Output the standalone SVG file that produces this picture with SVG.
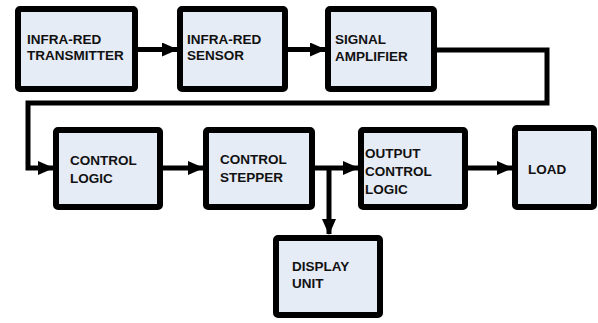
<svg xmlns="http://www.w3.org/2000/svg" width="598" height="323" viewBox="0 0 598 323">
  <style>
    .box { fill: #e6ecf6; stroke: #000; stroke-width: 6; }
    .lbl { font-family: "Liberation Sans", Arial, sans-serif; font-weight: bold; font-size: 13.5px; fill: #111; }
    .wire { fill: none; stroke: #000; stroke-width: 5; stroke-linejoin: miter; }
  </style>
  <defs>
    <marker id="arrow" markerUnits="userSpaceOnUse" markerWidth="16" markerHeight="14" refX="15" refY="7" orient="auto">
      <path d="M0,0 L16,7 L0,14 Z" fill="#000"/>
    </marker>
  </defs>
  <rect width="598" height="323" fill="#fff"/>

  <!-- connectors -->
  <g id="connectors">
    <line class="wire" x1="135" y1="49.5" x2="177" y2="49.5" marker-end="url(#arrow)"/>
    <line class="wire" x1="285" y1="49.5" x2="325" y2="49.5" marker-end="url(#arrow)"/>
    <polyline class="wire" points="434,50 547,50 547,103 28,103 28,168 53,168" marker-end="url(#arrow)"/>
    <line class="wire" x1="160" y1="168" x2="203" y2="168" marker-end="url(#arrow)"/>
    <line class="wire" x1="312" y1="168" x2="358" y2="168" marker-end="url(#arrow)"/>
    <line class="wire" x1="329" y1="168" x2="329" y2="234" marker-end="url(#arrow)"/>
    <line class="wire" x1="465" y1="168" x2="512" y2="168" marker-end="url(#arrow)"/>
  </g>

  <!-- nodes -->
  <g id="ir-transmitter">
    <rect class="box" x="18" y="9" width="117" height="80" rx="2"/>
    <text class="lbl" x="27" y="43.5">INFRA-RED</text>
    <text class="lbl" x="27" y="60">TRANSMITTER</text>
  </g>
  <g id="ir-sensor">
    <rect class="box" x="180" y="9" width="105" height="80" rx="2"/>
    <text class="lbl" x="187" y="43.5">INFRA-RED</text>
    <text class="lbl" x="187" y="60">SENSOR</text>
  </g>
  <g id="signal-amplifier">
    <rect class="box" x="328" y="9" width="106" height="80" rx="2"/>
    <text class="lbl" x="335" y="43.5">SIGNAL</text>
    <text class="lbl" x="335" y="60.5">AMPLIFIER</text>
  </g>
  <g id="control-logic">
    <rect class="box" x="56" y="130" width="104" height="77" rx="2"/>
    <text class="lbl" x="70" y="165">CONTROL</text>
    <text class="lbl" x="70" y="183">LOGIC</text>
  </g>
  <g id="control-stepper">
    <rect class="box" x="206" y="130" width="106" height="77" rx="2"/>
    <text class="lbl" x="220" y="164">CONTROL</text>
    <text class="lbl" x="220" y="182">STEPPER</text>
  </g>
  <g id="output-control-logic">
    <rect class="box" x="361" y="130" width="104" height="77" rx="2"/>
    <text class="lbl" x="365" y="158">OUTPUT</text>
    <text class="lbl" x="365" y="176">CONTROL</text>
    <text class="lbl" x="365" y="194">LOGIC</text>
  </g>
  <g id="load">
    <rect class="box" x="515" y="128" width="79" height="79" rx="2"/>
    <text class="lbl" x="528" y="174">LOAD</text>
  </g>
  <g id="display-unit">
    <rect class="box" x="276" y="238" width="104" height="77" rx="2"/>
    <text class="lbl" x="292" y="271">DISPLAY</text>
    <text class="lbl" x="292" y="288">UNIT</text>
  </g>
</svg>
